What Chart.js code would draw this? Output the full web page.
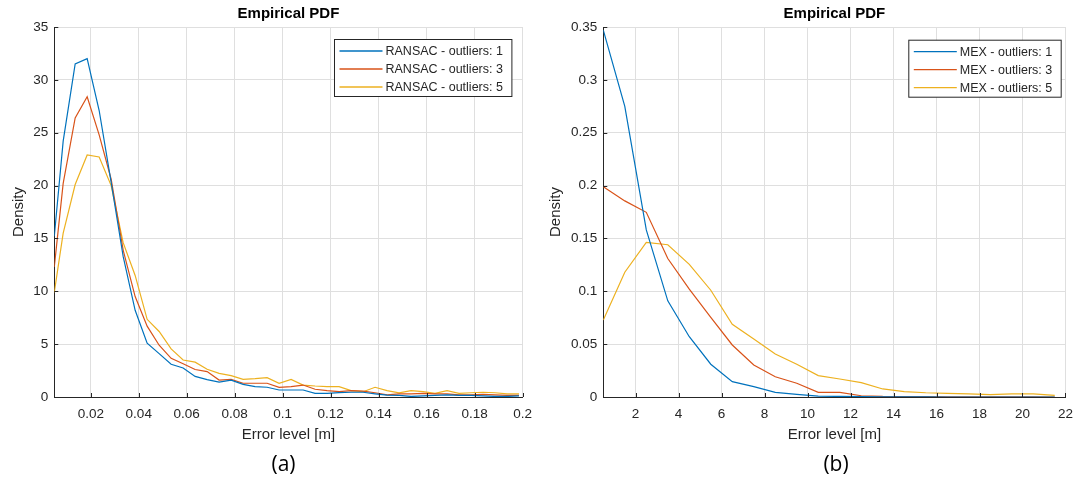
<!DOCTYPE html>
<html>
<head>
<meta charset="utf-8">
<script src="https://cdn.jsdelivr.net/npm/chart.js@4.4.1/dist/chart.umd.min.js"></script>
<style>
    html, body { margin: 0; padding: 0; background: #fff; }
    #wrap { position: relative; width: 1082px; height: 482px; }
    canvas { position: absolute; top: 0; }
    #chartA { left: 0; }
    #chartB { left: 541px; }
</style>
</head>
<body>
<div id="wrap">
    <canvas id="chartA" width="541" height="482"></canvas>
    <canvas id="chartB" width="541" height="482"></canvas>
</div>
<script>
// ---- data ----
// (a) RANSAC, error in metres
const ransacX = [0.0048, 0.0085, 0.0135, 0.0185, 0.0235, 0.0285, 0.0335, 0.0385, 0.0435, 0.0485,
    0.0535, 0.0585, 0.0635, 0.0685, 0.0735, 0.0785, 0.0835, 0.0885, 0.0935, 0.0985,
    0.1035, 0.1085, 0.1135, 0.1185, 0.1235, 0.1285, 0.1335, 0.1385, 0.1435, 0.1485,
    0.1535, 0.1585, 0.1635, 0.1685, 0.1735, 0.1785, 0.1835, 0.1885, 0.1935, 0.1985];
const ransac1 = [15.2, 24.2, 31.5, 32.0, 27.1, 20.3, 13.3, 8.2, 5.1, 4.1,
    3.1, 2.75, 1.95, 1.65, 1.4, 1.6, 1.2, 0.98, 0.92, 0.66,
    0.66, 0.66, 0.35, 0.35, 0.42, 0.45, 0.45, 0.3, 0.17, 0.15,
    0.05, 0.1, 0.15, 0.2, 0.15, 0.15, 0.1, 0.05, 0.05, 0.1];
const ransac3 = [12.3, 20.2, 26.4, 28.4, 24.8, 20.6, 13.9, 9.5, 6.7, 4.9,
    3.66, 3.15, 2.6, 2.4, 1.6, 1.67, 1.3, 1.3, 1.3, 0.92,
    0.98, 1.13, 0.73, 0.6, 0.5, 0.6, 0.55, 0.4, 0.2, 0.3,
    0.3, 0.35, 0.3, 0.3, 0.2, 0.2, 0.25, 0.2, 0.15, 0.15];
const ransac5 = [9.9, 15.5, 20.1, 22.9, 22.7, 20.0, 14.6, 11.5, 7.35, 6.2,
    4.55, 3.5, 3.3, 2.62, 2.24, 2.02, 1.67, 1.73, 1.83, 1.3,
    1.67, 1.13, 1.04, 0.98, 0.98, 0.6, 0.5, 0.92, 0.6, 0.4,
    0.6, 0.5, 0.35, 0.6, 0.35, 0.4, 0.45, 0.4, 0.3, 0.3];
const ransacLabels = ["RANSAC - outliers: 1", "RANSAC - outliers: 3", "RANSAC - outliers: 5"];

// (b) MEX
const mexX = [0.5, 1.5, 2.5, 3.5, 4.5, 5.5, 6.5, 7.5, 8.5, 9.5, 10.5,
    11.5, 12.5, 13.5, 14.5, 15.5, 16.5, 17.5, 18.5, 19.5, 20.5, 21.5];
const mex1 = [0.347, 0.275, 0.158, 0.091, 0.057, 0.031, 0.0145, 0.0098, 0.0044, 0.0025, 0.0008,
    0.0005, 0.0003, 0.0002, 0.0001, 0.0001, 0, 0, 0, 0, 0, 0];
const mex3 = [0.199, 0.1855, 0.1747, 0.131, 0.102, 0.0754, 0.0492, 0.0303, 0.0192, 0.013, 0.0044,
    0.0044, 0.0012, 0.0005, 0.0004, 0.0003, 0.0002, 0.0001, 0.0001, 0.0001, 0.0001, 0];
const mex5 = [0.0728, 0.118, 0.1463, 0.144, 0.1255, 0.101, 0.0688, 0.0549, 0.0407, 0.031, 0.0202,
    0.017, 0.0136, 0.0076, 0.005, 0.004, 0.0035, 0.003, 0.0022, 0.003, 0.003, 0.0015];
const mexLabels = ["MEX - outliers: 1", "MEX - outliers: 3", "MEX - outliers: 5"];

const colors = ["#0072BD", "#D95319", "#EDB120"];
const FONT = '"Liberation Sans", Arial, sans-serif';
const TEXT = "#262626";
const GRID = "#dfdfdf";

// titles, axis labels, caption, legend box and inward MATLAB-style ticks
const panelDecor = {
    id: "panelDecor",
    afterDraw(chart, args, opts) {
        const ctx = chart.ctx;
        const a = chart.chartArea;
        const cx = (a.left + a.right) / 2;
        ctx.save();

        // inward ticks
        ctx.strokeStyle = TEXT;
        ctx.lineWidth = 1;
        const xs = chart.scales.x, ys = chart.scales.y;
        xs.ticks.forEach(t => {
            const p = Math.round(xs.getPixelForValue(t.value)) + 0.5;
            ctx.beginPath(); ctx.moveTo(p, a.bottom); ctx.lineTo(p, a.bottom - 4); ctx.stroke();
        });
        ys.ticks.forEach(t => {
            const p = Math.round(ys.getPixelForValue(t.value)) + 0.5;
            ctx.beginPath(); ctx.moveTo(a.left, p); ctx.lineTo(a.left + 4, p); ctx.stroke();
        });

        ctx.textAlign = "center";
        ctx.textBaseline = "middle";
        ctx.fillStyle = "#000";
        ctx.font = "bold 15px " + FONT;
        ctx.fillText("Empirical PDF", cx, 14);

        ctx.fillStyle = TEXT;
        ctx.font = "15px " + FONT;
        ctx.fillText("Error level [m]", cx, 435);

        ctx.save();
        ctx.translate(opts.yLabelX, (a.top + a.bottom) / 2);
        ctx.rotate(-Math.PI / 2);
        ctx.fillText("Density", 0, 0);
        ctx.restore();

        ctx.fillStyle = "#000";
        ctx.font = '21px "Open Sans", sans-serif';
        ctx.fillText(opts.caption, opts.captionX, 465);

        // legend
        ctx.font = "12.5px " + FONT;
        const ds = chart.data.datasets;
        const tw = Math.max(...ds.map(d => ctx.measureText(d.label).width));
        const bx = opts.legendX + 0.5, by = opts.legendY + 0.5;
        const bw = 51 + tw + 9, bh = 57;
        ctx.fillStyle = "#fff";
        ctx.fillRect(bx, by, bw, bh);
        ctx.strokeStyle = TEXT;
        ctx.strokeRect(bx, by, bw, bh);
        ctx.textAlign = "left";
        ds.forEach((d, i) => {
            const ry = by + 11.5 + i * 18;
            ctx.strokeStyle = d.borderColor;
            ctx.lineWidth = 1.3;
            ctx.beginPath(); ctx.moveTo(bx + 5, ry); ctx.lineTo(bx + 48, ry); ctx.stroke();
            ctx.fillStyle = TEXT;
            ctx.fillText(d.label, bx + 51, ry + 0.5);
        });
        ctx.restore();
    }
};

function makeSeries(xs, ys, label, color) {
    return {
        label: label,
        data: xs.map((x, i) => ({ x: x, y: ys[i] })),
        borderColor: color,
        backgroundColor: color,
        borderWidth: 1.2,
        pointRadius: 0,
        tension: 0,
        fill: false
    };
}

const fmt = v => String(+v.toFixed(4));

function makePanel(canvasId, series, p) {
    return new Chart(document.getElementById(canvasId), {
        type: "line",
        data: { datasets: series },
        options: {
            responsive: false,
            animation: false,
            layout: { padding: { left: 0, right: p.padRight, top: 27, bottom: 0 } },
            plugins: {
                legend: { display: false },
                title: { display: false },
                tooltip: { enabled: false },
                panelDecor: p.decor
            },
            scales: {
                x: {
                    type: "linear",
                    min: p.xMin, max: p.xMax,
                    grid: { color: GRID, drawTicks: false },
                    border: { display: true, color: TEXT, width: 1 },
                    ticks: { stepSize: p.xStep, includeBounds: false, padding: 9, color: TEXT,
                        font: { family: FONT, size: 13.5 }, callback: fmt, maxRotation: 0 },
                    afterFit: s => { s.height = 85; }
                },
                y: {
                    min: 0, max: p.yMax,
                    grid: { color: GRID, drawTicks: false },
                    border: { display: true, color: TEXT, width: 1 },
                    ticks: { stepSize: p.yStep, padding: 6, color: TEXT,
                        font: { family: FONT, size: 13.5 }, callback: fmt },
                    afterFit: s => { s.width = p.yWidth; }
                }
            }
        },
        plugins: [panelDecor]
    });
}

makePanel("chartA", [
    makeSeries(ransacX, ransac1, ransacLabels[0], colors[0]),
    makeSeries(ransacX, ransac3, ransacLabels[1], colors[1]),
    makeSeries(ransacX, ransac5, ransacLabels[2], colors[2])
], {
    padRight: 17.7, yWidth: 54.3,
    xMin: 0.0048, xMax: 0.2, xStep: 0.02, yMax: 35, yStep: 5,
    decor: { yLabelX: 19, caption: "(a)", captionX: 283.5, legendX: 334, legendY: 39 }
});

makePanel("chartB", [
    makeSeries(mexX, mex1, mexLabels[0], colors[0]),
    makeSeries(mexX, mex3, mexLabels[1], colors[1]),
    makeSeries(mexX, mex5, mexLabels[2], colors[2])
], {
    padRight: 10.3, yWidth: 62.3,
    xMin: 0.5, xMax: 22, xStep: 2, yMax: 0.35, yStep: 0.05,
    decor: { yLabelX: 15, caption: "(b)", captionX: 295, legendX: 367.3, legendY: 39.7 }
});
</script>
</body>
</html>
